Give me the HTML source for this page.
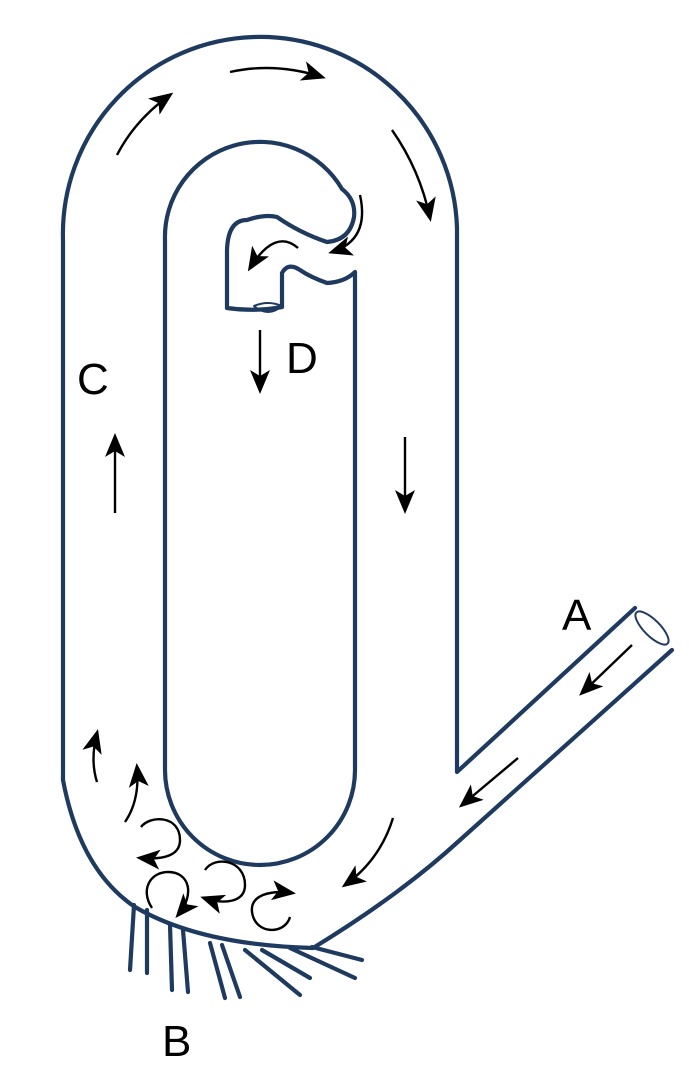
<!DOCTYPE html>
<html><head><style>html,body{margin:0;padding:0;background:#fff}svg{display:block}</style></head><body>
<svg width="689" height="1070" viewBox="0 0 689 1070" xmlns="http://www.w3.org/2000/svg">
<defs>
<marker id="a" markerWidth="26" markerHeight="20" refX="20" refY="10" orient="auto" markerUnits="userSpaceOnUse"><path d="M0,0 L24,10 L0,20 L6,10 Z" fill="#000"/></marker></defs>
<g fill="none" stroke="#1f3a5f" stroke-width="4.2" stroke-linecap="round" stroke-linejoin="round">
<path d="M63,780 L63,240 A197,197 0 0 1 457,228 L457,772 L635,608"/>
<path d="M672,650 L460,840 Q400,895 313,948 Q200,945 135,907 Q80,870 63,780"/>
<ellipse cx="652" cy="628" rx="8" ry="22" transform="rotate(-45 652 628)" stroke-width="2"/>
<path d="M165,240 L165,770 A95,95 0 0 0 355,770 L355,272 Q345,282 327,283 Q310,277 300,270 Q288,262 282,273 L282,307 M227,308 L227,250 Q228,220 247,220 Q265,214 277,217 Q300,233 327,242 Q350,240 354,217 Q356,200 342,189 A95,95 0 0 0 165,240"/>
<path d="M227,308 Q255,312 282,307" />
<path d="M254,306 Q268,300 282,306 Q268,318 254,306" stroke-width="2"/>
<path d="M134,905 L130,970 M147,910 L147,973 M170,925 L172,990 M183,930 L188,992 M210,943 L225,998 M222,945 L240,997 M245,950 L300,995 M262,950 L310,978 M290,948 L355,978 M312,947 L362,960"/>
</g>
<g fill="none" stroke="#000" stroke-width="2.4" marker-end="url(#a)">
<path d="M117,155 Q135,120 170,95"/>
<path d="M230,72 Q275,62 322,77"/>
<path d="M392,130 Q420,170 430,218"/>
<path d="M360,195 Q370,240 332,252"/>
<path d="M298,248 Q275,228 250,268"/>
<path d="M260,330 L260,390"/>
<path d="M405,437 L405,510"/>
<path d="M115,513 L115,437"/>
<path d="M632,645 L582,693"/>
<path d="M518,758 L462,805"/>
<path d="M393,818 Q380,860 345,885"/>
<path d="M97,782 Q90,760 97,733"/>
<path d="M125,822 Q140,800 137,767"/>
<path d="M141,827 C150,815 180,815 180,840 C180,855 165,860 140,858"/>
<path d="M152,908 C140,890 150,872 168,872 C190,872 195,895 178,915"/>
<path d="M205,870 C215,855 245,860 245,885 C245,902 225,905 204,898"/>
<path d="M290,917 C285,935 255,935 252,912 C250,895 270,890 292,893"/>
</g>
<g font-family="Liberation Sans, sans-serif" font-size="44" fill="#000">
<text x="562" y="630">A</text>
<text x="162" y="1056">B</text>
<text x="77" y="394">C</text>
<text x="286" y="373">D</text>
</g>
</svg>
</body></html>
